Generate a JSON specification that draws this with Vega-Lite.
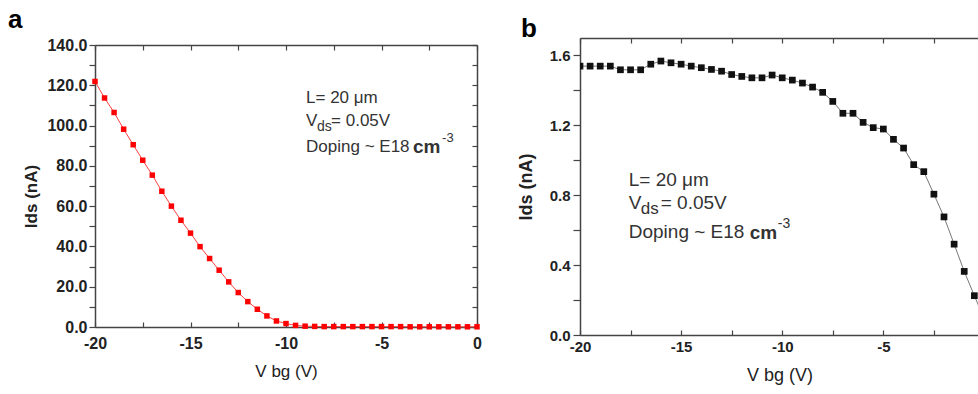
{
  "$schema": "https://vega.github.io/schema/vega-lite/v6.json",
  "background": "white",
  "padding": {"left": 8, "right": 0, "top": 6, "bottom": 0},
  "spacing": 35,
  "config": {
    "view": {"stroke": null},
    "font": "Liberation Sans",
    "axis": {
      "grid": false,
      "domainColor": "#444",
      "tickColor": "#444",
      "domainWidth": 1.5,
      "tickWidth": 1.2,
      "labelColor": "#222",
      "labelFont": "Liberation Sans",
      "labelFontWeight": "bold",
      "titleFont": "Liberation Sans",
      "titleColor": "#222"
    }
  },
  "datasets": {
    "a": [
      {"vbg": -20, "ids": 121.9}, {"vbg": -19.5, "ids": 113.7}, {"vbg": -19, "ids": 106.5},
      {"vbg": -18.5, "ids": 98.2}, {"vbg": -18, "ids": 90.5}, {"vbg": -17.5, "ids": 82.8},
      {"vbg": -17, "ids": 75.4}, {"vbg": -16.5, "ids": 67.4}, {"vbg": -16, "ids": 60.0},
      {"vbg": -15.5, "ids": 53.0}, {"vbg": -15, "ids": 46.6}, {"vbg": -14.5, "ids": 39.9},
      {"vbg": -14, "ids": 34.0}, {"vbg": -13.5, "ids": 28.2}, {"vbg": -13, "ids": 22.4},
      {"vbg": -12.5, "ids": 17.1}, {"vbg": -12, "ids": 12.6}, {"vbg": -11.5, "ids": 8.8},
      {"vbg": -11, "ids": 5.5}, {"vbg": -10.5, "ids": 3.0}, {"vbg": -10, "ids": 1.7},
      {"vbg": -9.5, "ids": 0.8}, {"vbg": -9, "ids": 0.4}, {"vbg": -8.5, "ids": 0.3},
      {"vbg": -8, "ids": 0.2}, {"vbg": -7.5, "ids": 0.2}, {"vbg": -7, "ids": 0.2},
      {"vbg": -6.5, "ids": 0.2}, {"vbg": -6, "ids": 0.2}, {"vbg": -5.5, "ids": 0.2},
      {"vbg": -5, "ids": 0.2}, {"vbg": -4.5, "ids": 0.2}, {"vbg": -4, "ids": 0.2},
      {"vbg": -3.5, "ids": 0.1}, {"vbg": -3, "ids": 0.1}, {"vbg": -2.5, "ids": 0.1},
      {"vbg": -2, "ids": 0.1}, {"vbg": -1.5, "ids": 0.1}, {"vbg": -1, "ids": 0.1},
      {"vbg": -0.5, "ids": 0.1}, {"vbg": 0, "ids": 0.1}
    ],
    "b": [
      {"vbg": -20, "ids": 1.539}, {"vbg": -19.5, "ids": 1.539}, {"vbg": -19, "ids": 1.539},
      {"vbg": -18.5, "ids": 1.539}, {"vbg": -18, "ids": 1.518}, {"vbg": -17.5, "ids": 1.518},
      {"vbg": -17, "ids": 1.518}, {"vbg": -16.5, "ids": 1.550}, {"vbg": -16, "ids": 1.568},
      {"vbg": -15.5, "ids": 1.558}, {"vbg": -15, "ids": 1.550}, {"vbg": -14.5, "ids": 1.539},
      {"vbg": -14, "ids": 1.530}, {"vbg": -13.5, "ids": 1.520}, {"vbg": -13, "ids": 1.510},
      {"vbg": -12.5, "ids": 1.491}, {"vbg": -12, "ids": 1.480}, {"vbg": -11.5, "ids": 1.472},
      {"vbg": -11, "ids": 1.472}, {"vbg": -10.5, "ids": 1.488}, {"vbg": -10, "ids": 1.472},
      {"vbg": -9.5, "ids": 1.459}, {"vbg": -9, "ids": 1.442}, {"vbg": -8.5, "ids": 1.419},
      {"vbg": -8, "ids": 1.389}, {"vbg": -7.5, "ids": 1.337}, {"vbg": -7, "ids": 1.269},
      {"vbg": -6.5, "ids": 1.269}, {"vbg": -6, "ids": 1.217}, {"vbg": -5.5, "ids": 1.187},
      {"vbg": -5, "ids": 1.179}, {"vbg": -4.5, "ids": 1.120}, {"vbg": -4, "ids": 1.070},
      {"vbg": -3.5, "ids": 0.975}, {"vbg": -3, "ids": 0.935}, {"vbg": -2.5, "ids": 0.806},
      {"vbg": -2, "ids": 0.676}, {"vbg": -1.5, "ids": 0.520}, {"vbg": -1, "ids": 0.364},
      {"vbg": -0.5, "ids": 0.225}, {"vbg": 0, "ids": 0.09}
    ],
    "one": [{}]
  },
  "hconcat": [
    {
      "width": 382,
      "height": 289,
      "title": {"text": "a", "anchor": "start", "frame": "group", "dx": -87, "offset": -16.5, "baseline": "alphabetic", "fontSize": 26, "fontWeight": "bold", "color": "#000", "font": "Liberation Sans"},
      "data": {"name": "a"},
      "resolve": {"axis": {"x": "independent", "y": "independent"}},
      "layer": [
        {
          "mark": {"type": "line", "color": "#ff4040", "strokeWidth": 1},
          "encoding": {
            "x": {"field": "vbg", "type": "quantitative",
              "scale": {"domain": [-20, 0], "nice": false, "zero": false},
              "axis": {"orient": "bottom", "values": [-20, -17.5, -15, -12.5, -10, -7.5, -5, -2.5, 0],
                "labelExpr": "datum.value % 5 == 0 ? '' + datum.value : ''",
                "tickSize": -5, "labelPadding": 13, "labelFontSize": 16, "labelFlush": false,
                "title": "V bg (V)", "titleFontSize": 17, "titleFontWeight": "normal", "titlePadding": 12}},
            "y": {"field": "ids", "type": "quantitative",
              "scale": {"domain": [0, 140], "nice": false, "range": [289, 7]},
              "axis": {"orient": "left", "values": [0, 10, 20, 30, 40, 50, 60, 70, 80, 90, 100, 110, 120, 130, 140],
                "labelExpr": "datum.value % 20 == 0 ? format(datum.value, '.1f') : ''",
                "tickSize": 6, "labelPadding": 2, "labelFontSize": 16,
                "title": "Ids (nA)", "titleFontSize": 17, "titleFontWeight": "bold", "titlePadding": 6, "titleY": 158}}
          }
        },
        {
          "mark": {"type": "square", "color": "#ff0000", "size": 30, "opacity": 1},
          "encoding": {
            "x": {"field": "vbg", "type": "quantitative", "axis": null},
            "y": {"field": "ids", "type": "quantitative", "axis": null}
          }
        },
        {
          "mark": {"type": "point", "opacity": 0},
          "encoding": {
            "x": {"field": "vbg", "type": "quantitative",
              "axis": {"orient": "top", "offset": -7, "values": [-20, -17.5, -15, -12.5, -10, -7.5, -5, -2.5, 0], "labels": false, "tickSize": -5, "title": null}},
            "y": {"field": "ids", "type": "quantitative",
              "axis": {"orient": "right", "values": [0, 10, 20, 30, 40, 50, 60, 70, 80, 90, 100, 110, 120, 130, 140], "labels": false, "tickSize": -5, "title": null}}
          }
        },
        {
          "data": {"name": "one"},
          "mark": {"type": "text", "align": "left", "baseline": "alphabetic", "fontSize": 17, "fontWeight": "normal", "color": "#333"},
          "encoding": {
            "x": {"datum": -8.95, "type": "quantitative", "axis": null},
            "y": {"datum": 111, "type": "quantitative", "axis": null},
            "text": {"value": "L= 20 μm"}
          }
        },
        {
          "data": {"name": "one"},
          "mark": {"type": "text", "align": "left", "baseline": "alphabetic", "fontSize": 17, "fontWeight": "normal", "color": "#333"},
          "encoding": {
            "x": {"datum": -8.95, "type": "quantitative", "axis": null},
            "y": {"datum": 99.7, "type": "quantitative", "axis": null},
            "text": {"value": "V"}
          }
        },
        {
          "data": {"name": "one"},
          "mark": {"type": "text", "align": "left", "baseline": "alphabetic", "fontSize": 14, "fontWeight": "normal", "color": "#333", "dx": 11, "dy": 5},
          "encoding": {
            "x": {"datum": -8.95, "type": "quantitative", "axis": null},
            "y": {"datum": 99.7, "type": "quantitative", "axis": null},
            "text": {"value": "ds"}
          }
        },
        {
          "data": {"name": "one"},
          "mark": {"type": "text", "align": "left", "baseline": "alphabetic", "fontSize": 17, "fontWeight": "normal", "color": "#333", "dx": 25},
          "encoding": {
            "x": {"datum": -8.95, "type": "quantitative", "axis": null},
            "y": {"datum": 99.7, "type": "quantitative", "axis": null},
            "text": {"value": "= 0.05V"}
          }
        },
        {
          "data": {"name": "one"},
          "mark": {"type": "text", "align": "left", "baseline": "alphabetic", "fontSize": 17, "fontWeight": "normal", "color": "#333"},
          "encoding": {
            "x": {"datum": -8.95, "type": "quantitative", "axis": null},
            "y": {"datum": 86.8, "type": "quantitative", "axis": null},
            "text": {"value": "Doping ~ E18"}
          }
        },
        {
          "data": {"name": "one"},
          "mark": {"type": "text", "align": "left", "baseline": "alphabetic", "fontSize": 19, "fontWeight": "bold", "color": "#333", "dx": 107, "dy": 1},
          "encoding": {
            "x": {"datum": -8.95, "type": "quantitative", "axis": null},
            "y": {"datum": 86.8, "type": "quantitative", "axis": null},
            "text": {"value": "cm"}
          }
        },
        {
          "data": {"name": "one"},
          "mark": {"type": "text", "align": "left", "baseline": "alphabetic", "fontSize": 13, "fontWeight": "normal", "color": "#333", "dx": 136, "dy": -10},
          "encoding": {
            "x": {"datum": -8.95, "type": "quantitative", "axis": null},
            "y": {"datum": 86.8, "type": "quantitative", "axis": null},
            "text": {"value": "-3"}
          }
        }
      ]
    },
    {
      "width": 399,
      "height": 297,
      "title": {"text": "b", "anchor": "start", "frame": "group", "dx": -59, "offset": -25.5, "baseline": "alphabetic", "fontSize": 26, "fontWeight": "bold", "color": "#000", "font": "Liberation Sans"},
      "data": {"name": "b"},
      "resolve": {"axis": {"x": "independent", "y": "independent"}},
      "layer": [
        {
          "mark": {"type": "line", "color": "#777", "strokeWidth": 1, "clip": true},
          "encoding": {
            "x": {"field": "vbg", "type": "quantitative",
              "scale": {"domain": [-20, -0.27], "nice": false, "zero": false},
              "axis": {"orient": "bottom", "values": [-20, -17.5, -15, -12.5, -10, -7.5, -5, -2.5],
                "labelExpr": "datum.value % 5 == 0 ? '' + datum.value : ''",
                "tickSize": -5, "labelPadding": 9.5, "labelFontSize": 15, "labelFlush": false,
                "title": "V bg (V)", "titleFontSize": 18, "titleFontWeight": "normal", "titlePadding": 12}},
            "y": {"field": "ids", "type": "quantitative",
              "scale": {"domain": [0, 1.7], "nice": false},
              "axis": {"orient": "left", "values": [0, 0.2, 0.4, 0.6, 0.8, 1.0, 1.2, 1.4, 1.6],
                "labelExpr": "round(datum.value * 10) % 4 == 0 ? format(datum.value, '.1f') : ''",
                "tickSize": 7, "labelPadding": 3, "labelFontSize": 15,
                "title": "Ids (nA)", "titleFontSize": 18, "titleFontWeight": "bold", "titlePadding": 14}}
          }
        },
        {
          "mark": {"type": "square", "color": "#111", "size": 45, "opacity": 1, "clip": true},
          "encoding": {
            "x": {"field": "vbg", "type": "quantitative", "axis": null},
            "y": {"field": "ids", "type": "quantitative", "axis": null}
          }
        },
        {
          "mark": {"type": "point", "opacity": 0, "clip": true},
          "encoding": {
            "x": {"field": "vbg", "type": "quantitative",
              "axis": {"orient": "top", "values": [-20, -17.5, -15, -12.5, -10, -7.5, -5, -2.5], "labels": false, "tickSize": -5, "title": null}},
            "y": {"field": "ids", "type": "quantitative", "axis": null}
          }
        },
        {
          "data": {"name": "one"},
          "mark": {"type": "text", "align": "left", "baseline": "alphabetic", "fontSize": 19, "fontWeight": "normal", "color": "#333"},
          "encoding": {
            "x": {"datum": -17.59, "type": "quantitative", "axis": null},
            "y": {"datum": 0.853, "type": "quantitative", "axis": null},
            "text": {"value": "L= 20 μm"}
          }
        },
        {
          "data": {"name": "one"},
          "mark": {"type": "text", "align": "left", "baseline": "alphabetic", "fontSize": 19, "fontWeight": "normal", "color": "#333"},
          "encoding": {
            "x": {"datum": -17.59, "type": "quantitative", "axis": null},
            "y": {"datum": 0.719, "type": "quantitative", "axis": null},
            "text": {"value": "V"}
          }
        },
        {
          "data": {"name": "one"},
          "mark": {"type": "text", "align": "left", "baseline": "alphabetic", "fontSize": 17, "fontWeight": "normal", "color": "#333", "dx": 12, "dy": 5},
          "encoding": {
            "x": {"datum": -17.59, "type": "quantitative", "axis": null},
            "y": {"datum": 0.719, "type": "quantitative", "axis": null},
            "text": {"value": "ds"}
          }
        },
        {
          "data": {"name": "one"},
          "mark": {"type": "text", "align": "left", "baseline": "alphabetic", "fontSize": 19, "fontWeight": "normal", "color": "#333", "dx": 32},
          "encoding": {
            "x": {"datum": -17.59, "type": "quantitative", "axis": null},
            "y": {"datum": 0.719, "type": "quantitative", "axis": null},
            "text": {"value": "= 0.05V"}
          }
        },
        {
          "data": {"name": "one"},
          "mark": {"type": "text", "align": "left", "baseline": "alphabetic", "fontSize": 19, "fontWeight": "normal", "color": "#333"},
          "encoding": {
            "x": {"datum": -17.59, "type": "quantitative", "axis": null},
            "y": {"datum": 0.554, "type": "quantitative", "axis": null},
            "text": {"value": "Doping ~ E18"}
          }
        },
        {
          "data": {"name": "one"},
          "mark": {"type": "text", "align": "left", "baseline": "alphabetic", "fontSize": 19, "fontWeight": "bold", "color": "#333", "dx": 121, "dy": 1},
          "encoding": {
            "x": {"datum": -17.59, "type": "quantitative", "axis": null},
            "y": {"datum": 0.554, "type": "quantitative", "axis": null},
            "text": {"value": "cm"}
          }
        },
        {
          "data": {"name": "one"},
          "mark": {"type": "text", "align": "left", "baseline": "alphabetic", "fontSize": 14, "fontWeight": "normal", "color": "#333", "dx": 149, "dy": -10},
          "encoding": {
            "x": {"datum": -17.59, "type": "quantitative", "axis": null},
            "y": {"datum": 0.554, "type": "quantitative", "axis": null},
            "text": {"value": "-3"}
          }
        }
      ]
    }
  ]
}
